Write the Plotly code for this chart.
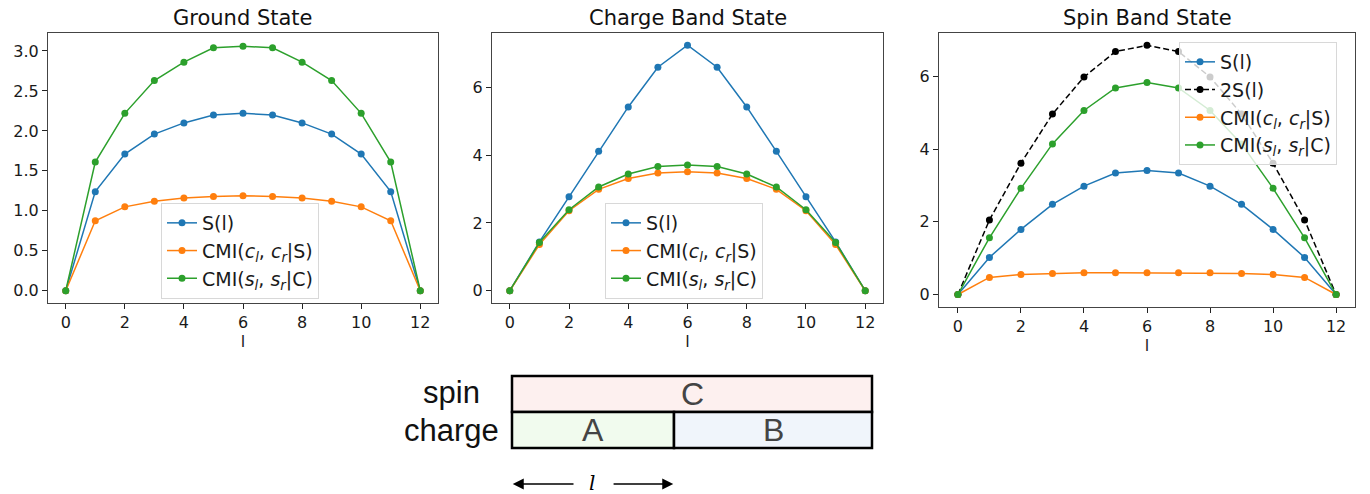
import plotly.graph_objects as go

# ---------------- data ----------------
l_sites = list(range(13))

ground_S = [0, 1.24, 1.71, 1.96, 2.10, 2.20, 2.22, 2.20, 2.10, 1.96, 1.71, 1.24, 0]
ground_CMI_c = [0, 0.875, 1.05, 1.12, 1.16, 1.18, 1.19, 1.18, 1.16, 1.12, 1.05, 0.875, 0]
ground_CMI_s = [0, 1.61, 2.22, 2.63, 2.86, 3.04, 3.06, 3.04, 2.86, 2.63, 2.22, 1.61, 0]

charge_S = [0, 1.44, 2.77, 4.11, 5.42, 6.59, 7.24, 6.59, 5.42, 4.11, 2.77, 1.44, 0]
charge_CMI_c = [0, 1.36, 2.36, 2.99, 3.31, 3.47, 3.51, 3.47, 3.31, 2.99, 2.36, 1.36, 0]
charge_CMI_s = [0, 1.42, 2.39, 3.06, 3.44, 3.66, 3.71, 3.66, 3.44, 3.06, 2.39, 1.42, 0]

spin_S = [0, 1.02, 1.79, 2.48, 2.98, 3.34, 3.41, 3.34, 2.98, 2.48, 1.79, 1.02, 0]
spin_2S = [0, 2.05, 3.61, 4.96, 5.98, 6.68, 6.85, 6.68, 5.98, 4.96, 3.61, 2.05, 0]
spin_CMI_c = [0, 0.47, 0.55, 0.58, 0.60, 0.60, 0.60, 0.60, 0.60, 0.58, 0.55, 0.47, 0]
spin_CMI_s = [0, 1.56, 2.92, 4.14, 5.06, 5.68, 5.83, 5.68, 5.06, 4.14, 2.92, 1.56, 0]

titles = ["Ground State", "Charge Band State", "Spin Band State"]
x_ticks = [0, 2, 4, 6, 8, 10, 12]
y_ticks_ground = [0.0, 0.5, 1.0, 1.5, 2.0, 2.5, 3.0]
y_ticks_band = [0, 2, 4, 6]

name_S = "S(l)"
name_2S = "2S(l)"
name_CMI_c = "CMI(<i>c</i><sub><i>l</i></sub>, <i>c</i><sub><i>r</i></sub>|S)"
name_CMI_s = "CMI(<i>s</i><sub><i>l</i></sub>, <i>s</i><sub><i>r</i></sub>|C)"

# schematic: fraction of chain in A
diagram_A_frac = 0.45
diagram_row_labels = ["spin", "charge"]
diagram_box_labels = ["C", "A", "B"]

# ---------------- style ----------------
BLUE, ORANGE, GREEN = "#1f77b4", "#ff7f0e", "#2ca02c"
FONT = "DejaVu Sans"
W, H = 1370, 494

fig = go.Figure()


def add(x, y, name, color, xa, ya, leg, dash="solid"):
    fig.add_trace(go.Scatter(
        x=x, y=y, name=name, mode="lines+markers",
        line=dict(color=color, width=1.5, dash=dash),
        marker=dict(color=color, size=7),
        xaxis=xa, yaxis=ya, legend=leg))


add(l_sites, ground_S, name_S, BLUE, "x", "y", "legend")
add(l_sites, ground_CMI_c, name_CMI_c, ORANGE, "x", "y", "legend")
add(l_sites, ground_CMI_s, name_CMI_s, GREEN, "x", "y", "legend")

add(l_sites, charge_S, name_S, BLUE, "x2", "y2", "legend2")
add(l_sites, charge_CMI_c, name_CMI_c, ORANGE, "x2", "y2", "legend2")
add(l_sites, charge_CMI_s, name_CMI_s, GREEN, "x2", "y2", "legend2")

add(l_sites, spin_S, name_S, BLUE, "x3", "y3", "legend3")
add(l_sites, spin_2S, name_2S, "black", "x3", "y3", "legend3", dash="6px,3px")
add(l_sites, spin_CMI_c, name_CMI_c, ORANGE, "x3", "y3", "legend3")
add(l_sites, spin_CMI_s, name_CMI_s, GREEN, "x3", "y3", "legend3")


def px_x(a, b):
    return [a / W, b / W]


def px_y(top, bottom):
    return [1 - bottom / H, 1 - top / H]


axis_common = dict(showline=True, mirror=True, linecolor="#444", linewidth=1,
                   ticks="outside", ticklen=5, tickcolor="#222",
                   showgrid=False, zeroline=False,
                   tickfont=dict(family=FONT, size=16, color="#1a1a1a"))

xdoms = [px_x(48, 438), px_x(492, 883), px_x(939, 1355)]
ydoms = [px_y(33, 303), px_y(33, 303), px_y(33, 307)]
yranges = [[-0.153, 3.225], [-0.362, 7.6], [-0.343, 7.19]]
yticks = [y_ticks_ground, y_ticks_band, y_ticks_band]

layout = dict(
    width=W, height=H, margin=dict(l=0, r=0, t=0, b=0),
    plot_bgcolor="white", paper_bgcolor="white",
    font=dict(family=FONT, color="#1a1a1a"),
)
for i in range(3):
    sx = "" if i == 0 else str(i + 1)
    layout["xaxis" + sx] = dict(
        axis_common, domain=xdoms[i], range=[-0.6, 12.6], tickvals=x_ticks,
        anchor="y" + sx,
        title=dict(text="l", standoff=1, font=dict(family=FONT, size=16, color="#1a1a1a")))
    layout["yaxis" + sx] = dict(
        axis_common, domain=ydoms[i], range=yranges[i], tickvals=yticks[i],
        anchor="x" + sx, tickformat=".1f" if i == 0 else "d")

leg_common = dict(bgcolor="rgba(255,255,255,0.8)", bordercolor="#d8d8d8", borderwidth=1,
                  font=dict(family=FONT, size=19, color="#1a1a1a"),
                  xanchor="left", yanchor="top", tracegroupgap=0, itemwidth=30)
layout["legend"] = dict(leg_common, x=161 / W, y=1 - 203 / H)
layout["legend2"] = dict(leg_common, x=605 / W, y=1 - 203 / H)
layout["legend3"] = dict(leg_common, x=1179 / W, y=1 - 42 / H)

# schematic axis: 0..1 spans the chain (512px..872px), rows are 36px tall
X0, UNIT_X = 512, 360
layout["xaxis4"] = dict(domain=px_x(380, 900), range=[(380 - X0) / UNIT_X, (900 - X0) / UNIT_X],
                        visible=False, anchor="y4", fixedrange=True)
layout["yaxis4"] = dict(domain=[0, 1 - 370 / H], range=[-(494 - 448) / 36, 2 + 6 / 36],
                        visible=False, anchor="x4", fixedrange=True)
fig.update_layout(**layout)

# titles
annotations = []
for i in range(3):
    annotations.append(dict(
        text=titles[i], xref="paper", yref="paper",
        x=sum(xdoms[i]) / 2, y=ydoms[i][1], xanchor="center", yanchor="bottom",
        yshift=1, showarrow=False, font=dict(family=FONT, size=21, color="#111")))

# schematic shapes
shapes = [
    dict(type="rect", xref="x4", yref="y4", x0=0, x1=1, y0=1, y1=2,
         fillcolor="#fdf0ef", line=dict(color="black", width=2.5), layer="above"),
    dict(type="rect", xref="x4", yref="y4", x0=0, x1=diagram_A_frac, y0=0, y1=1,
         fillcolor="#f1fbee", line=dict(color="black", width=2.5), layer="above"),
    dict(type="rect", xref="x4", yref="y4", x0=diagram_A_frac, x1=1, y0=0, y1=1,
         fillcolor="#f0f5fb", line=dict(color="black", width=2.5), layer="above"),
]
box_centers = [(0.5, 1.5), (diagram_A_frac / 2, 0.5), ((1 + diagram_A_frac) / 2, 0.5)]
for lab, (cx, cy) in zip(diagram_box_labels, box_centers):
    annotations.append(dict(text=lab, xref="x4", yref="y4", x=cx, y=cy, showarrow=False,
                            font=dict(family="Liberation Sans", size=32, color="#444")))
annotations.append(dict(text=diagram_row_labels[0], xref="x4", yref="y4", x=-0.168, y=1.55,
                        showarrow=False, font=dict(family="Liberation Sans", size=31, color="#111")))
annotations.append(dict(text=diagram_row_labels[1], xref="x4", yref="y4", x=-0.03, y=0.48,
                        xanchor="right", showarrow=False,
                        font=dict(family="Liberation Sans", size=31, color="#111")))
# arrows
annotations.append(dict(x=0.002, y=-1, ax=0.175, ay=-1, xref="x4", yref="y4", axref="x4", ayref="y4",
                        text="", showarrow=True, arrowhead=2, arrowsize=1.7, arrowwidth=1.3,
                        arrowcolor="black"))
annotations.append(dict(x=diagram_A_frac - 0.002, y=-1, ax=0.278, ay=-1, xref="x4", yref="y4",
                        axref="x4", ayref="y4", text="", showarrow=True, arrowhead=2,
                        arrowsize=1.7, arrowwidth=1.3, arrowcolor="black"))
annotations.append(dict(text="<i>l</i>", xref="x4", yref="y4", x=diagram_A_frac / 2 - 0.003, y=-0.97,
                        showarrow=False, font=dict(family="DejaVu Serif", size=20, color="black")))

fig.update_layout(shapes=shapes, annotations=annotations)
fig.write_html("out.html")
